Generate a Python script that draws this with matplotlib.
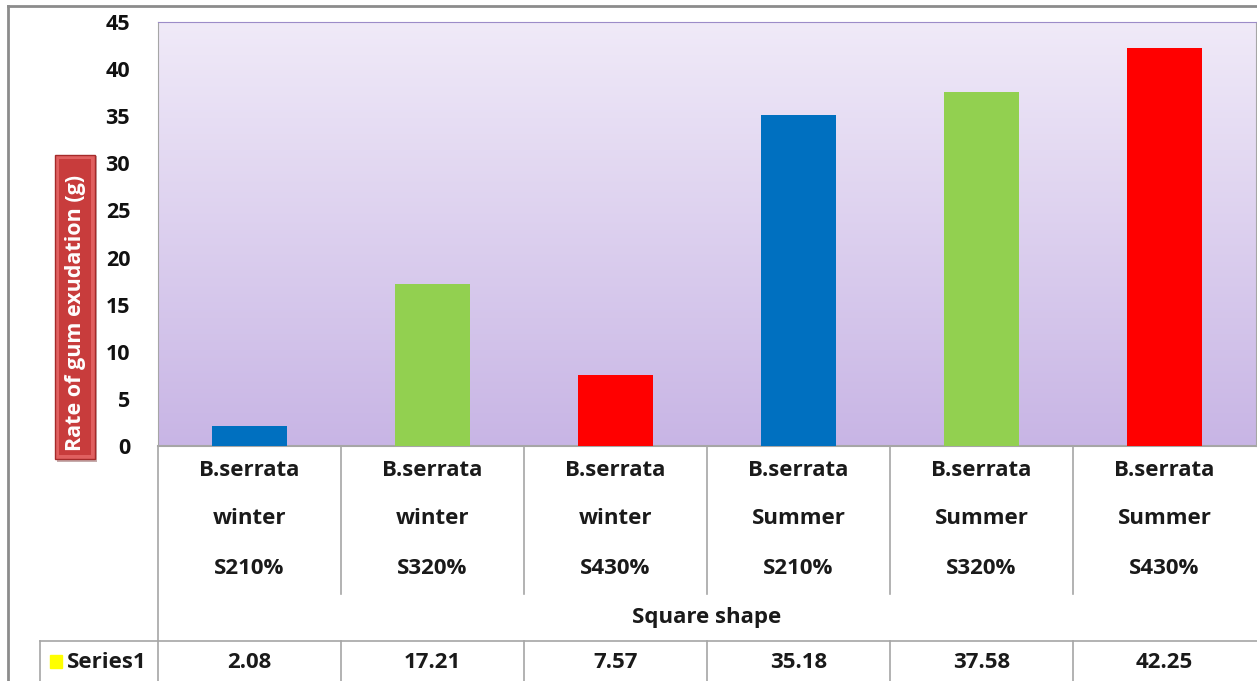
import numpy as np
import matplotlib
matplotlib.use("Agg")
import matplotlib.pyplot as plt
from matplotlib.lines import Line2D
from matplotlib.patches import Rectangle

# ---- data ----
species = ["B.serrata"] * 6
seasons = ["winter", "winter", "winter", "Summer", "Summer", "Summer"]
treatments = ["S210%", "S320%", "S430%", "S210%", "S320%", "S430%"]
values = [2.08, 17.21, 7.57, 35.18, 37.58, 42.25]
value_labels = ["2.08", "17.21", "7.57", "35.18", "37.58", "42.25"]
bar_colors = ["#0070c0", "#92d050", "#ff0000", "#0070c0", "#92d050", "#ff0000"]
yticks = [0, 5, 10, 15, 20, 25, 30, 35, 40, 45]
group_label = "Square shape"
series_name = "Series1"
ylabel = "Rate of gum exudation (g)"

W, H = 1257, 681
fig = plt.figure(figsize=(W / 100, H / 100), dpi=100)
plt.rcParams['font.family'] = ['Open Sans', 'DejaVu Sans']
FS = 15.5
FC = 16

def fx(px):
    return px / W

def fy(py):
    return 1 - py / H

def fline(x0, y0, x1, y1, color="#a6a6a6", lw=1.0, z=5):
    fig.add_artist(Line2D([fx(x0), fx(x1)], [fy(y0), fy(y1)], color=color, lw=lw,
                          transform=fig.transFigure, zorder=z))

# plot area
L, T, R, B = 158, 22, 1256, 446
ax = fig.add_axes([fx(L), fy(B), fx(R) - fx(L), fy(T) - fy(B)])
n = len(values)
x = np.arange(n)
ax.set_xlim(-0.5, n - 0.5)
ax.set_ylim(0, 45)

# gradient background
grad = np.linspace(0, 1, 256).reshape(-1, 1)
top = np.array([0xf0, 0xea, 0xf8]) / 255
bot = np.array([0xc8, 0xb5, 0xe5]) / 255
img = top[None, None, :] * (1 - grad[:, :, None]) + bot[None, None, :] * grad[:, :, None]
ax.imshow(img, extent=[0, 1, 0, 1], transform=ax.transAxes, aspect="auto", zorder=0)

ax.bar(x, values, width=0.41, color=bar_colors, zorder=3)

ax.set_yticks(yticks)
ax.set_yticklabels([str(t) for t in yticks], fontsize=FS, fontweight="bold", color="#111111")
ax.tick_params(axis="y", length=0, pad=20)
ax.set_xticks([])
for s in ["left", "bottom", "right"]:
    ax.spines[s].set_color("#a6a6a6")
ax.spines["top"].set_color("#9c8cc8")
ax.spines["bottom"].set_linewidth(1.5)

# outer border
fline(8, 6, 1257, 6, color="#8c8c8c", lw=2)
fline(8, 6, 8, 681, color="#8c8c8c", lw=2)

# category table
bounds = [L + (R - L) * k / n for k in range(n + 1)]
fline(L, B, L, H, lw=1.2)
for k in range(1, n):
    fline(bounds[k], B, bounds[k], 594, lw=1.2)
    fline(bounds[k], 641, bounds[k], H, lw=1.2)
fline(40, 641, W, 641, lw=1.2)
fline(40, 641, 40, H, lw=1.2)

for i in range(n):
    cx = (bounds[i] + bounds[i + 1]) / 2
    for txt, yy in zip([species[i], seasons[i], treatments[i]], [470, 519, 568]):
        fig.text(fx(cx), fy(yy), txt, ha="center", va="center", fontsize=FC,
                 fontweight="bold", color="#1a1a1a")
    fig.text(fx(cx), fy(662), value_labels[i], ha="center", va="center", fontsize=FC,
             fontweight="bold", color="#1a1a1a")

fig.text(fx((L + R) / 2), fy(617), group_label, ha="center", va="center", fontsize=FC,
         fontweight="bold", color="#1a1a1a")

# legend key
fig.add_artist(Rectangle((fx(50), fy(668)), fx(12), fy(655) - fy(668), color="#ffff00",
                         transform=fig.transFigure))
fig.text(fx(67), fy(662), series_name, ha="left", va="center", fontsize=FC,
         fontweight="bold", color="#1a1a1a")

# y-label box
fig.add_artist(Rectangle((fx(57), fy(462)), fx(40), fy(156) - fy(462), facecolor="#5a1010",
                         edgecolor="none", transform=fig.transFigure, alpha=0.35, zorder=4))
fig.add_artist(Rectangle((fx(55), fy(459)), fx(40), fy(155) - fy(459), facecolor="#e06060",
                         edgecolor="#a52a2a", lw=1.0, transform=fig.transFigure, zorder=5))
fig.add_artist(Rectangle((fx(59), fy(455)), fx(32), fy(159) - fy(455), facecolor="#c83c3c",
                         edgecolor="none", transform=fig.transFigure, zorder=5))
fig.text(fx(75.5), fy(313), ylabel, ha="center", va="center", rotation=90, fontsize=FS,
         fontweight="bold", color="white", zorder=6)

fig.savefig("out.png", dpi=100)
